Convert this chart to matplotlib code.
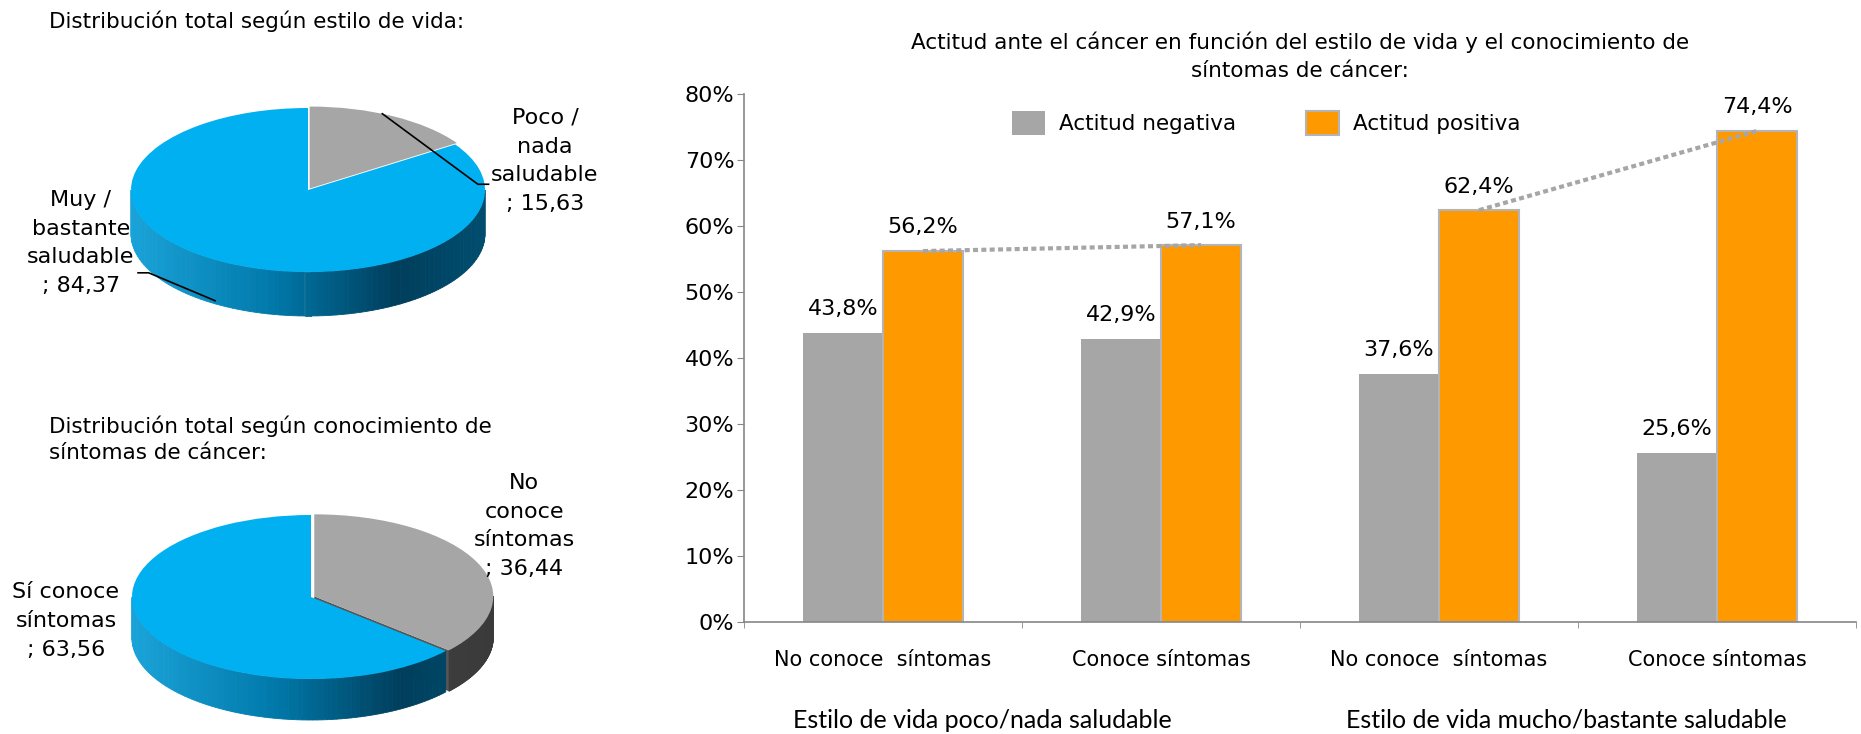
import numpy as np
import matplotlib
matplotlib.use("Agg")
import matplotlib.pyplot as plt
from matplotlib.colors import LinearSegmentedColormap
from matplotlib.patches import Polygon

plt.rcParams["font.family"] = "DejaVu Sans"

# pie data
estilo_labels = ["Poco /\nnada\nsaludable", "Muy /\nbastante\nsaludable"]
estilo_values = [15.63, 84.37]
sintomas_labels = ["No\nconoce\nsíntomas", "Sí conoce\nsíntomas"]
sintomas_values = [36.44, 63.56]

# bar data
categories = ["No conoce  síntomas", "Conoce síntomas", "No conoce  síntomas", "Conoce síntomas"]
groups = ["Estilo de vida poco/nada saludable", "Estilo de vida mucho/bastante saludable"]
negativa = [43.8, 42.9, 37.6, 25.6]
positiva = [56.2, 57.1, 62.4, 74.4]

W, H = 1861, 734
fig = plt.figure(figsize=(W / 100, H / 100), dpi=100)


def fx(x):
    return x / W


def fy(y):
    return 1 - y / H


def fmt(v, dec):
    return f"{v:.{dec}f}".replace(".", ",")


blue_side = LinearSegmentedColormap.from_list(
    "bside", [(0, "#1aa3d9"), (0.4, "#0079aa"), (0.75, "#003e5c"), (1, "#004d6e")])
gray_side = LinearSegmentedColormap.from_list(
    "gside", [(0, "#5a5a5a"), (0.5, "#454545"), (1, "#3a3a3a")])


def pie3d(cx, cy, a, b, depth, values, colors, cmaps, explode):
    d = depth / b
    ax = fig.add_axes([fx(cx - 1.3 * a), fy(cy + (1.3 + d) * b), 2.6 * a / W, (2.6 + d) * b / H])
    wedges, _ = ax.pie(values, colors=colors, startangle=90, counterclock=False,
                       explode=explode, frame=True, wedgeprops=dict(linewidth=0))
    ax.set_aspect("auto")
    ax.set_xlim(-1.3, 1.3)
    ax.set_ylim(-1.3 - d, 1.3)
    ax.axis("off")
    for w, cmap in zip(wedges, cmaps):
        x0, y0 = w.center
        r = w.r
        t1, t2 = w.theta1, w.theta2
        # cut face facing the viewer
        if np.sin(np.radians(t1)) < 0 and np.cos(np.radians(t1)) > 0:
            ex, ey = x0 + r * np.cos(np.radians(t1)), y0 + r * np.sin(np.radians(t1))
            ax.add_patch(Polygon([(x0, y0), (ex, ey), (ex, ey - d), (x0, y0 - d)],
                                 fc=cmap(0.1), ec="none", zorder=0.3))
        # front side wall with gradient
        for k in (-360, 0, 360):
            lo, hi = max(t1, -180 + k), min(t2, k)
            if hi <= lo:
                continue
            ts = np.radians(np.linspace(lo, hi, 90))
            for u, v in zip(ts[:-1], ts[1:]):
                xs = x0 + r * np.cos([u, v])
                ys = y0 + r * np.sin([u, v])
                c = cmap((np.cos((u + v) / 2) + 1) / 2)
                ax.add_patch(Polygon([(xs[0], ys[0]), (xs[1], ys[1]), (xs[1], ys[1] - d), (xs[0], ys[0] - d)],
                                     fc=c, ec=c, lw=0.6, zorder=0.5))
    return ax


# pie 1
p1 = pie3d(308, 190, 177, 82, 44, estilo_values, ["#A6A6A6", "#00B0F0"],
           [gray_side, blue_side], [0.02, 0])
p1.plot([0.42, 0.96, 1.02], [0.93, 0.07, 0.07], color="black", lw=1.2, zorder=3)
p1.plot([-0.525, -0.9, -0.96], [-1.35, -1.01, -1.01], color="black", lw=1.2, zorder=3)
fig.text(fx(49), fy(21), "Distribución total según estilo de vida:", ha="left", va="center", fontsize=15.5)
fig.text(fx(545), fy(161), estilo_labels[0] + "\n; " + fmt(estilo_values[0], 2),
         ha="center", va="center", fontsize=16, linespacing=1.55)
fig.text(fx(81), fy(243), estilo_labels[1] + "\n; " + fmt(estilo_values[1], 2),
         ha="center", va="center", fontsize=16, linespacing=1.55)

# pie 2
p2 = pie3d(311, 597, 179, 82, 41, sintomas_values, ["#A6A6A6", "#00B0F0"],
           [gray_side, blue_side], [0.02, 0])
fig.text(fx(49), fy(439), "Distribución total según conocimiento de\nsíntomas de cáncer:",
         ha="left", va="center", fontsize=15.5, linespacing=1.35)
fig.text(fx(524), fy(526), sintomas_labels[0] + "\n; " + fmt(sintomas_values[0], 2),
         ha="center", va="center", fontsize=16, linespacing=1.55)
fig.text(fx(66), fy(621), sintomas_labels[1] + "\n; " + fmt(sintomas_values[1], 2),
         ha="center", va="center", fontsize=16, linespacing=1.55)

# bar chart
ax = fig.add_axes([fx(744), fy(622), 1112 / W, 528 / H])
x = np.arange(len(categories))
w = 0.288
ax.bar(x - w, negativa, w, align="edge", color="#A6A6A6", label="Actitud negativa", zorder=2)
ax.bar(x, positiva, w, align="edge", color="#FF9900", edgecolor="#B4B4B4", linewidth=1.5,
       label="Actitud positiva", zorder=2)
for i in range(len(x)):
    ax.annotate(fmt(negativa[i], 1) + "%", (x[i] - w / 2, negativa[i]), xytext=(0, 17),
                textcoords="offset points", ha="center", va="center", fontsize=16)
    ax.annotate(fmt(positiva[i], 1) + "%", (x[i] + w / 2, positiva[i]), xytext=(0, 17),
                textcoords="offset points", ha="center", va="center", fontsize=16)
ax.plot(x[:2] + w / 2, positiva[:2], color="#A6A6A6", lw=3, ls=(0, (1.2, 0.8)), zorder=3)
ax.plot(x[2:] + w / 2, positiva[2:], color="#A6A6A6", lw=3, ls=(0, (1.2, 0.8)), zorder=3)

ax.set_xlim(-0.5, 3.5)
ax.set_ylim(0, 80)
ax.set_yticks(range(0, 81, 10))
ax.set_yticklabels([f"{v}%" for v in range(0, 81, 10)])
ax.set_xticks(x)
ax.set_xticklabels(categories)
ax.set_xticks(np.arange(-0.5, 4, 1), minor=True)
ax.tick_params(axis="x", which="major", length=0, pad=20, labelsize=15)
ax.tick_params(axis="x", which="minor", length=4.3, color="#868686")
ax.tick_params(axis="y", length=5, color="#868686", pad=2, labelsize=16)
for s in ["top", "right"]:
    ax.spines[s].set_visible(False)
for s in ["left", "bottom"]:
    ax.spines[s].set_color("#868686")
    ax.spines[s].set_linewidth(1.2)

fig.text(fx(982), fy(720), groups[0], ha="center", va="center", fontsize=18, family="Lato")
fig.text(fx(1566), fy(720), groups[1], ha="center", va="center", fontsize=18, family="Lato")

fig.text(fx(1300), fy(42), "Actitud ante el cáncer en función del estilo de vida y el conocimiento de",
         ha="center", va="center", fontsize=15.5)
fig.text(fx(1300), fy(71), "síntomas de cáncer:", ha="center", va="center", fontsize=15.5)

h, l = ax.get_legend_handles_labels()
fig.legend(h, l, loc="center left", bbox_to_anchor=(fx(1012), fy(123)), ncol=2, frameon=False,
           fontsize=15.5, handlelength=1.53, handleheight=1.4, handletextpad=0.65,
           columnspacing=3.25, borderpad=0, borderaxespad=0)

fig.savefig("out.png", dpi=100)
